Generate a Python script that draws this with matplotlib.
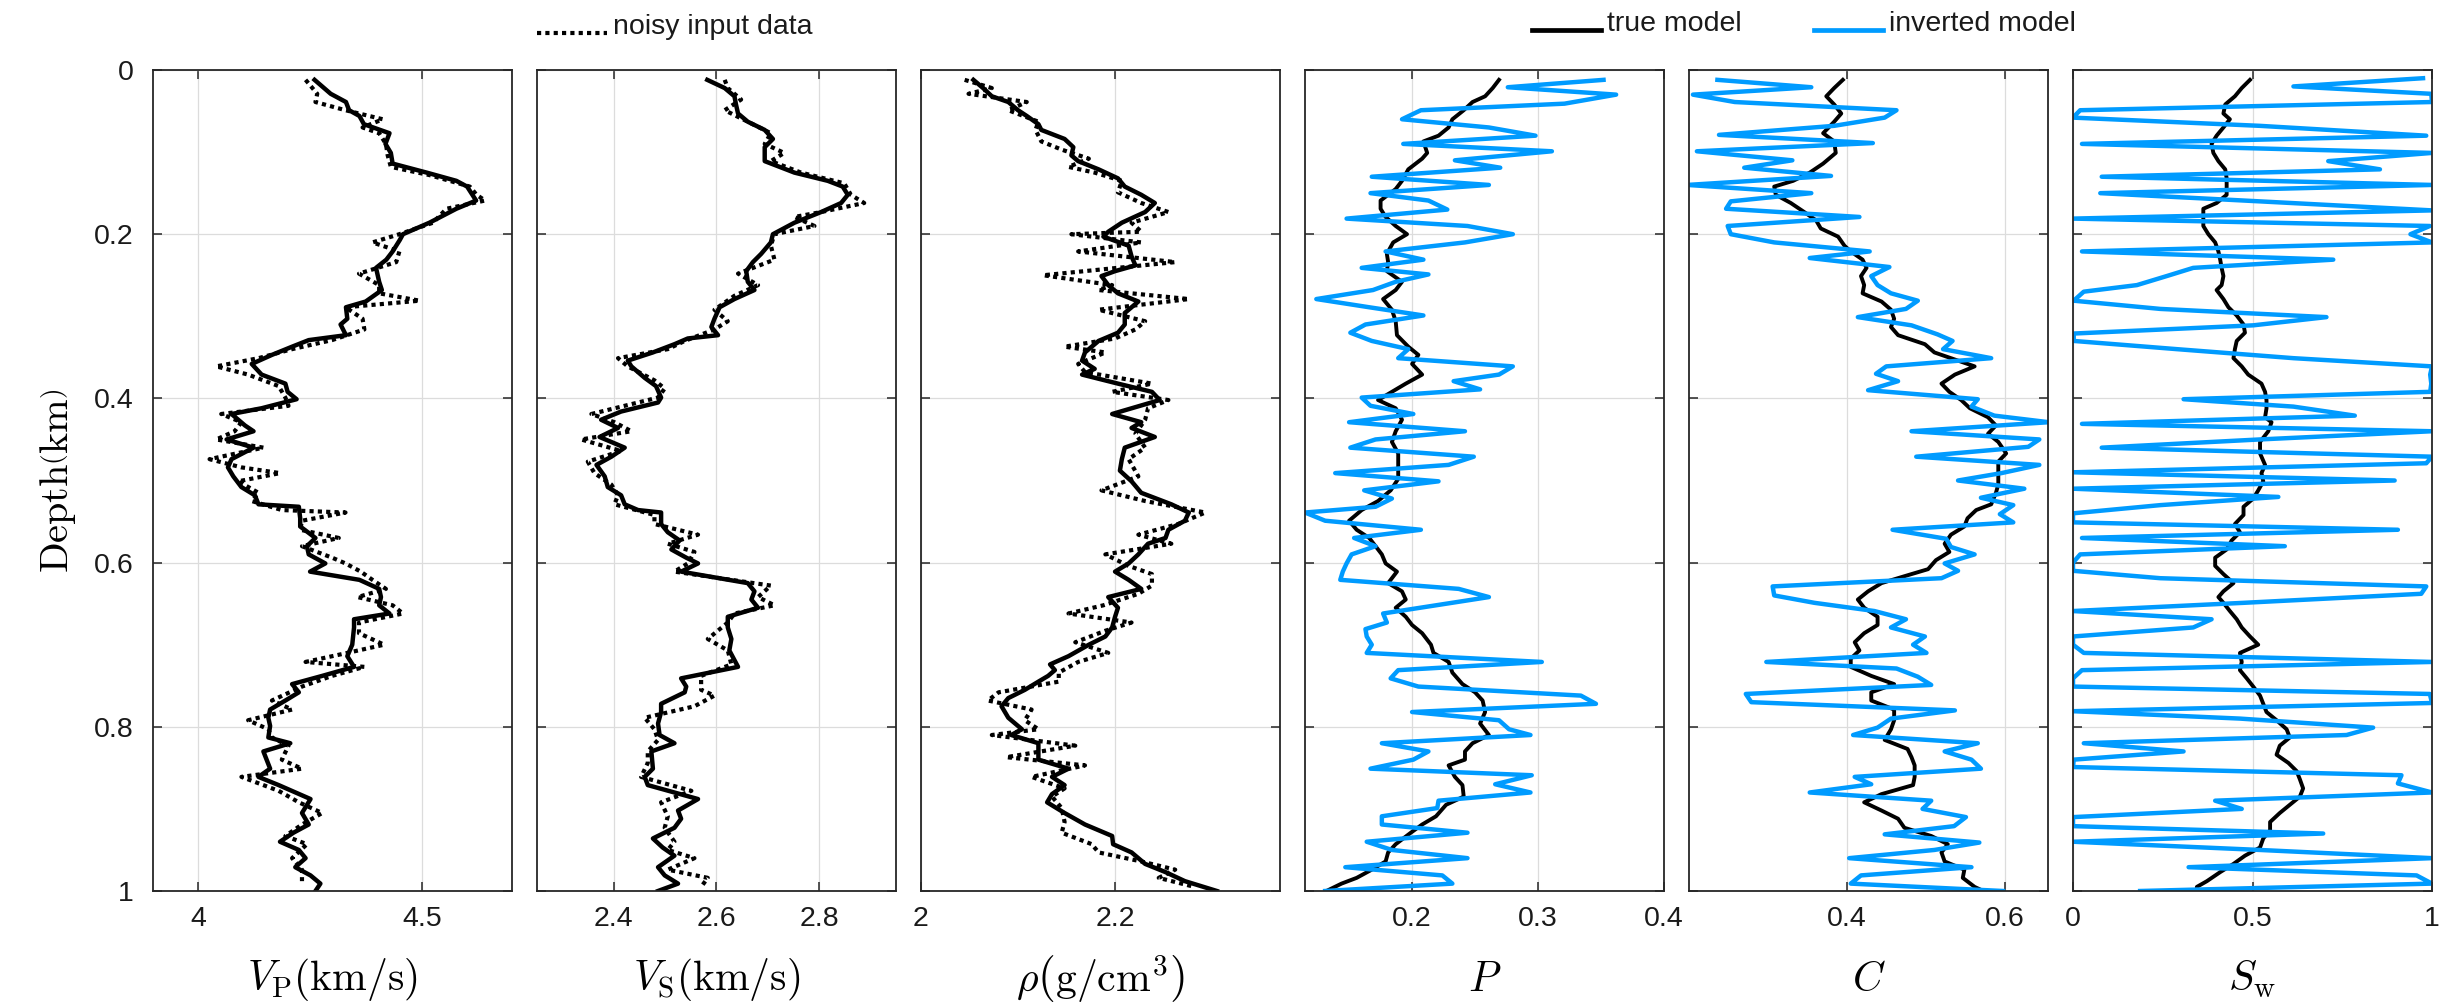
"""
plot.py

Six-track well-log style figure: elastic parameters (true vs noisy input)
and rock-physics parameters (true vs inverted) against depth.
"""

import matplotlib
matplotlib.use("Agg")
import matplotlib.pyplot as plt
from matplotlib.lines import Line2D

plt.rcParams["font.family"] = ["Liberation Sans", "DejaVu Sans"]
plt.rcParams["mathtext.fontset"] = "cm"

# ---------------------------------------------------------------- data
# Vp (km/s)
vp_depth = [0.012, 0.029, 0.039, 0.049, 0.056, 0.066, 0.077, 0.090, 0.101, 0.114,
            0.125, 0.135, 0.142, 0.159, 0.169, 0.186, 0.200, 0.207, 0.221, 0.231,
            0.241, 0.258, 0.268, 0.282, 0.289, 0.303, 0.310, 0.323, 0.329, 0.337,
            0.347, 0.358, 0.371, 0.382, 0.392, 0.401, 0.412, 0.419, 0.433, 0.440,
            0.450, 0.460, 0.474, 0.484, 0.495, 0.508, 0.518, 0.529, 0.532, 0.546,
            0.556, 0.570, 0.580, 0.590, 0.601, 0.611, 0.621, 0.632, 0.642, 0.652,
            0.662, 0.669, 0.679, 0.700, 0.714, 0.727, 0.738, 0.748, 0.758, 0.768,
            0.779, 0.789, 0.799, 0.813, 0.820, 0.830, 0.851, 0.861, 0.871, 0.888,
            0.905, 0.919, 0.929, 0.940, 0.950, 0.960, 0.971, 0.981, 0.991, 1.000]
vp_true = [4.260, 4.296, 4.330, 4.337, 4.360, 4.370, 4.427, 4.418, 4.430, 4.434,
           4.510, 4.576, 4.600, 4.620, 4.576, 4.516, 4.457, 4.450, 4.434, 4.420,
           4.397, 4.404, 4.410, 4.374, 4.330, 4.333, 4.318, 4.330, 4.247, 4.210,
           4.165, 4.120, 4.142, 4.195, 4.200, 4.220, 4.142, 4.075, 4.105, 4.124,
           4.064, 4.124, 4.075, 4.067, 4.079, 4.097, 4.127, 4.135, 4.225, 4.228,
           4.228, 4.262, 4.243, 4.247, 4.284, 4.250, 4.360, 4.404, 4.408, 4.404,
           4.427, 4.348, 4.348, 4.344, 4.333, 4.348, 4.277, 4.210, 4.225, 4.195,
           4.161, 4.157, 4.161, 4.157, 4.206, 4.146, 4.161, 4.135, 4.180, 4.251,
           4.232, 4.247, 4.213, 4.183, 4.225, 4.240, 4.217, 4.251, 4.273, 4.262]
vp_noisy_depth = [0.012, 0.029, 0.039, 0.049, 0.060, 0.070, 0.077, 0.090, 0.104, 0.118,
                  0.128, 0.142, 0.152, 0.159, 0.169, 0.186, 0.200, 0.210, 0.221, 0.234,
                  0.248, 0.262, 0.272, 0.281, 0.289, 0.303, 0.316, 0.329, 0.340, 0.351,
                  0.361, 0.371, 0.385, 0.399, 0.409, 0.419, 0.429, 0.440, 0.450, 0.460,
                  0.474, 0.484, 0.491, 0.501, 0.515, 0.525, 0.536, 0.539, 0.549, 0.560,
                  0.570, 0.580, 0.594, 0.601, 0.611, 0.621, 0.632, 0.642, 0.652, 0.662,
                  0.673, 0.686, 0.700, 0.710, 0.721, 0.727, 0.738, 0.751, 0.768, 0.779,
                  0.792, 0.803, 0.813, 0.823, 0.840, 0.851, 0.861, 0.878, 0.892, 0.905,
                  0.919, 0.933, 0.943, 0.960, 0.974, 0.988]
vp_noisy = [4.240, 4.266, 4.262, 4.329, 4.412, 4.367, 4.404, 4.419, 4.423, 4.430,
            4.516, 4.606, 4.621, 4.640, 4.554, 4.524, 4.449, 4.389, 4.449, 4.442,
            4.359, 4.404, 4.404, 4.494, 4.329, 4.367, 4.371, 4.299, 4.210, 4.135,
            4.041, 4.112, 4.180, 4.195, 4.202, 4.052, 4.097, 4.082, 4.041, 4.146,
            4.026, 4.097, 4.183, 4.090, 4.135, 4.120, 4.187, 4.329, 4.232, 4.228,
            4.314, 4.232, 4.299, 4.329, 4.363, 4.389, 4.419, 4.356, 4.434, 4.457,
            4.359, 4.359, 4.415, 4.333, 4.240, 4.371, 4.299, 4.232, 4.165, 4.210,
            4.112, 4.157, 4.165, 4.202, 4.187, 4.232, 4.097, 4.180, 4.225, 4.277,
            4.232, 4.195, 4.243, 4.210, 4.232, 4.232]

# Vs (km/s)
vs_depth = [0.012, 0.022, 0.032, 0.042, 0.053, 0.063, 0.073, 0.084, 0.094, 0.111,
            0.125, 0.135, 0.142, 0.152, 0.162, 0.173, 0.186, 0.200, 0.210, 0.224,
            0.234, 0.245, 0.258, 0.268, 0.279, 0.289, 0.303, 0.313, 0.323, 0.327,
            0.334, 0.344, 0.354, 0.361, 0.375, 0.385, 0.399, 0.405, 0.416, 0.426,
            0.436, 0.447, 0.460, 0.471, 0.481, 0.495, 0.508, 0.518, 0.529, 0.536,
            0.539, 0.553, 0.563, 0.573, 0.584, 0.594, 0.601, 0.611, 0.625, 0.635,
            0.645, 0.655, 0.666, 0.679, 0.693, 0.707, 0.727, 0.741, 0.751, 0.758,
            0.772, 0.782, 0.796, 0.810, 0.820, 0.830, 0.851, 0.861, 0.871, 0.888,
            0.902, 0.912, 0.923, 0.936, 0.947, 0.957, 0.971, 0.981, 0.991, 1.000]
vs_true = [2.582, 2.616, 2.635, 2.638, 2.642, 2.661, 2.694, 2.710, 2.694, 2.694,
           2.752, 2.817, 2.846, 2.856, 2.843, 2.804, 2.752, 2.710, 2.706, 2.687,
           2.671, 2.658, 2.661, 2.674, 2.635, 2.606, 2.596, 2.590, 2.603, 2.544,
           2.518, 2.476, 2.427, 2.434, 2.460, 2.482, 2.492, 2.486, 2.414, 2.375,
           2.408, 2.372, 2.421, 2.395, 2.366, 2.382, 2.388, 2.414, 2.421, 2.447,
           2.492, 2.492, 2.505, 2.528, 2.512, 2.541, 2.564, 2.531, 2.661, 2.674,
           2.668, 2.681, 2.622, 2.622, 2.629, 2.625, 2.642, 2.531, 2.541, 2.538,
           2.492, 2.492, 2.486, 2.489, 2.518, 2.473, 2.476, 2.460, 2.466, 2.564,
           2.525, 2.531, 2.518, 2.476, 2.495, 2.518, 2.486, 2.499, 2.525, 2.486]
vs_noisy_depth = [0.012, 0.022, 0.036, 0.049, 0.063, 0.077, 0.090, 0.101, 0.111, 0.125,
                  0.138, 0.152, 0.162, 0.173, 0.179, 0.190, 0.200, 0.214, 0.231, 0.248,
                  0.262, 0.275, 0.292, 0.306, 0.316, 0.330, 0.340, 0.351, 0.361, 0.378,
                  0.388, 0.399, 0.419, 0.429, 0.440, 0.450, 0.464, 0.477, 0.491, 0.505,
                  0.518, 0.529, 0.542, 0.553, 0.566, 0.577, 0.587, 0.601, 0.611, 0.628,
                  0.642, 0.652, 0.662, 0.673, 0.693, 0.707, 0.724, 0.738, 0.755, 0.762,
                  0.775, 0.789, 0.803, 0.816, 0.830, 0.844, 0.861, 0.878, 0.892, 0.909,
                  0.923, 0.940, 0.950, 0.960, 0.974, 0.984, 0.995]
vs_noisy = [2.616, 2.622, 2.648, 2.616, 2.661, 2.706, 2.694, 2.732, 2.706, 2.765,
            2.849, 2.862, 2.888, 2.804, 2.752, 2.791, 2.713, 2.706, 2.713, 2.642,
            2.681, 2.635, 2.596, 2.622, 2.596, 2.538, 2.505, 2.408, 2.427, 2.479,
            2.499, 2.486, 2.356, 2.401, 2.434, 2.336, 2.414, 2.349, 2.362, 2.395,
            2.408, 2.401, 2.479, 2.479, 2.564, 2.505, 2.557, 2.544, 2.518, 2.706,
            2.681, 2.713, 2.635, 2.622, 2.583, 2.622, 2.629, 2.570, 2.570, 2.596,
            2.557, 2.460, 2.479, 2.486, 2.466, 2.466, 2.453, 2.551, 2.492, 2.505,
            2.499, 2.518, 2.505, 2.557, 2.505, 2.583, 2.570]

# density (g/cm3)
rho_depth = [0.012, 0.022, 0.032, 0.039, 0.049, 0.056, 0.066, 0.073, 0.084, 0.094,
             0.104, 0.111, 0.121, 0.132, 0.142, 0.152, 0.162, 0.173, 0.186, 0.197,
             0.203, 0.214, 0.227, 0.238, 0.245, 0.251, 0.262, 0.272, 0.282, 0.296,
             0.310, 0.320, 0.330, 0.344, 0.354, 0.364, 0.371, 0.382, 0.392, 0.402,
             0.419, 0.429, 0.436, 0.447, 0.460, 0.474, 0.488, 0.501, 0.515, 0.529,
             0.539, 0.549, 0.560, 0.570, 0.577, 0.590, 0.601, 0.611, 0.621, 0.632,
             0.642, 0.655, 0.666, 0.679, 0.690, 0.700, 0.714, 0.724, 0.731, 0.738,
             0.745, 0.755, 0.765, 0.775, 0.789, 0.803, 0.810, 0.820, 0.830, 0.840,
             0.851, 0.861, 0.871, 0.882, 0.892, 0.905, 0.919, 0.933, 0.943, 0.953,
             0.967, 0.977, 0.988, 1.000]
rho_true = [2.054, 2.064, 2.073, 2.090, 2.100, 2.109, 2.121, 2.124, 2.148, 2.157,
            2.155, 2.162, 2.183, 2.203, 2.210, 2.227, 2.241, 2.231, 2.207, 2.193,
            2.188, 2.214, 2.217, 2.221, 2.200, 2.186, 2.193, 2.203, 2.224, 2.210,
            2.210, 2.203, 2.183, 2.169, 2.166, 2.179, 2.166, 2.203, 2.238, 2.246,
            2.197, 2.227, 2.217, 2.241, 2.210, 2.207, 2.205, 2.217, 2.227, 2.258,
            2.276, 2.272, 2.255, 2.252, 2.234, 2.224, 2.214, 2.200, 2.214, 2.227,
            2.193, 2.203, 2.200, 2.197, 2.190, 2.173, 2.152, 2.133, 2.138, 2.131,
            2.121, 2.107, 2.090, 2.083, 2.090, 2.104, 2.093, 2.121, 2.121, 2.121,
            2.152, 2.135, 2.148, 2.135, 2.130, 2.148, 2.169, 2.197, 2.198, 2.217,
            2.231, 2.252, 2.272, 2.305]
rho_noisy_depth = [0.012, 0.022, 0.029, 0.039, 0.049, 0.063, 0.073, 0.087, 0.097, 0.108,
                   0.118, 0.125, 0.135, 0.149, 0.162, 0.173, 0.186, 0.197, 0.200, 0.210,
                   0.221, 0.234, 0.250, 0.262, 0.268, 0.279, 0.292, 0.306, 0.316, 0.327,
                   0.337, 0.344, 0.358, 0.368, 0.382, 0.392, 0.402, 0.412, 0.426, 0.443,
                   0.460, 0.474, 0.495, 0.512, 0.525, 0.539, 0.553, 0.566, 0.577, 0.590,
                   0.604, 0.614, 0.628, 0.638, 0.652, 0.662, 0.673, 0.683, 0.697, 0.710,
                   0.721, 0.734, 0.745, 0.758, 0.768, 0.779, 0.792, 0.803, 0.810, 0.823,
                   0.837, 0.847, 0.861, 0.875, 0.885, 0.899, 0.916, 0.929, 0.943, 0.953,
                   0.964, 0.974, 0.984, 0.995]
rho_noisy = [2.045, 2.073, 2.049, 2.109, 2.090, 2.121, 2.118, 2.124, 2.145, 2.173,
             2.152, 2.179, 2.207, 2.203, 2.227, 2.255, 2.217, 2.227, 2.155, 2.227,
             2.162, 2.262, 2.126, 2.197, 2.183, 2.276, 2.183, 2.231, 2.221, 2.200,
             2.148, 2.190, 2.162, 2.169, 2.238, 2.197, 2.255, 2.234, 2.231, 2.221,
             2.231, 2.214, 2.224, 2.186, 2.231, 2.293, 2.265, 2.224, 2.258, 2.190,
             2.214, 2.238, 2.238, 2.224, 2.188, 2.152, 2.217, 2.190, 2.159, 2.193,
             2.162, 2.142, 2.142, 2.080, 2.069, 2.114, 2.107, 2.121, 2.073, 2.159,
             2.088, 2.169, 2.114, 2.148, 2.135, 2.145, 2.148, 2.145, 2.176, 2.183,
             2.227, 2.262, 2.245, 2.282]

# porosity P
p_depth = [0.012, 0.022, 0.032, 0.039, 0.049, 0.060, 0.070, 0.080, 0.087, 0.101,
           0.108, 0.121, 0.135, 0.145, 0.159, 0.169, 0.179, 0.190, 0.200, 0.210,
           0.224, 0.234, 0.245, 0.258, 0.268, 0.279, 0.292, 0.306, 0.323, 0.337,
           0.347, 0.358, 0.371, 0.382, 0.392, 0.402, 0.412, 0.426, 0.440, 0.453,
           0.467, 0.481, 0.498, 0.512, 0.525, 0.536, 0.549, 0.560, 0.570, 0.580,
           0.590, 0.601, 0.611, 0.625, 0.635, 0.645, 0.655, 0.666, 0.676, 0.686,
           0.700, 0.710, 0.721, 0.734, 0.748, 0.758, 0.768, 0.782, 0.796, 0.810,
           0.820, 0.830, 0.840, 0.847, 0.861, 0.871, 0.885, 0.895, 0.909, 0.919,
           0.929, 0.943, 0.953, 0.964, 0.974, 0.984, 0.991, 1.000]
p_true = [0.269, 0.264, 0.258, 0.248, 0.241, 0.232, 0.229, 0.221, 0.209, 0.212,
          0.208, 0.197, 0.192, 0.187, 0.175, 0.175, 0.179, 0.187, 0.196, 0.185,
          0.180, 0.181, 0.180, 0.192, 0.187, 0.177, 0.184, 0.187, 0.188, 0.197,
          0.205, 0.200, 0.208, 0.195, 0.184, 0.173, 0.187, 0.192, 0.187, 0.184,
          0.189, 0.189, 0.189, 0.183, 0.173, 0.160, 0.150, 0.156, 0.166, 0.171,
          0.176, 0.179, 0.188, 0.181, 0.192, 0.195, 0.187, 0.195, 0.200, 0.208,
          0.215, 0.217, 0.229, 0.232, 0.240, 0.250, 0.256, 0.258, 0.254, 0.261,
          0.248, 0.242, 0.242, 0.229, 0.234, 0.240, 0.241, 0.227, 0.219, 0.208,
          0.199, 0.187, 0.181, 0.179, 0.168, 0.156, 0.144, 0.132]
p_inv_depth = [0.012, 0.021, 0.030, 0.041, 0.049, 0.060, 0.070, 0.080, 0.090, 0.099,
               0.110, 0.119, 0.130, 0.140, 0.150, 0.159, 0.170, 0.181, 0.190, 0.200,
               0.210, 0.221, 0.231, 0.241, 0.249, 0.258, 0.268, 0.279, 0.289, 0.299,
               0.310, 0.320, 0.330, 0.340, 0.351, 0.361, 0.371, 0.379, 0.389, 0.399,
               0.409, 0.419, 0.429, 0.440, 0.450, 0.460, 0.471, 0.481, 0.491, 0.501,
               0.512, 0.522, 0.532, 0.539, 0.549, 0.560, 0.570, 0.580, 0.590, 0.601,
               0.611, 0.621, 0.632, 0.642, 0.652, 0.662, 0.673, 0.681, 0.690, 0.700,
               0.710, 0.721, 0.731, 0.741, 0.751, 0.762, 0.772, 0.782, 0.792, 0.803,
               0.810, 0.820, 0.830, 0.840, 0.851, 0.859, 0.870, 0.880, 0.890, 0.899,
               0.909, 0.919, 0.929, 0.940, 0.950, 0.960, 0.971, 0.981, 0.991, 1.000]
p_inv = [0.352, 0.276, 0.362, 0.321, 0.207, 0.192, 0.261, 0.298, 0.193, 0.311,
         0.234, 0.270, 0.168, 0.261, 0.167, 0.213, 0.228, 0.148, 0.244, 0.280,
         0.242, 0.179, 0.209, 0.160, 0.213, 0.187, 0.169, 0.124, 0.166, 0.209,
         0.163, 0.151, 0.168, 0.197, 0.189, 0.280, 0.269, 0.233, 0.254, 0.160,
         0.167, 0.201, 0.150, 0.242, 0.171, 0.151, 0.249, 0.229, 0.139, 0.221,
         0.162, 0.184, 0.171, 0.115, 0.131, 0.207, 0.154, 0.171, 0.152, 0.148,
         0.145, 0.143, 0.237, 0.261, 0.219, 0.177, 0.180, 0.163, 0.164, 0.168,
         0.164, 0.303, 0.189, 0.183, 0.205, 0.334, 0.346, 0.200, 0.269, 0.277,
         0.294, 0.176, 0.213, 0.201, 0.167, 0.295, 0.266, 0.294, 0.221, 0.220,
         0.176, 0.176, 0.244, 0.164, 0.184, 0.244, 0.147, 0.224, 0.232, 0.131]

# clay content C
c_depth = [0.012, 0.022, 0.032, 0.042, 0.053, 0.063, 0.077, 0.087, 0.101, 0.114,
           0.125, 0.135, 0.142, 0.152, 0.162, 0.173, 0.183, 0.193, 0.203, 0.214,
           0.221, 0.231, 0.241, 0.251, 0.262, 0.272, 0.282, 0.292, 0.303, 0.313,
           0.323, 0.334, 0.344, 0.351, 0.361, 0.371, 0.382, 0.392, 0.402, 0.412,
           0.423, 0.433, 0.443, 0.453, 0.467, 0.477, 0.491, 0.505, 0.515, 0.529,
           0.536, 0.546, 0.556, 0.566, 0.577, 0.587, 0.597, 0.608, 0.614, 0.625,
           0.635, 0.645, 0.655, 0.666, 0.676, 0.686, 0.697, 0.707, 0.717, 0.727,
           0.738, 0.748, 0.758, 0.768, 0.779, 0.792, 0.803, 0.816, 0.827, 0.837,
           0.847, 0.861, 0.871, 0.882, 0.892, 0.902, 0.912, 0.923, 0.933, 0.943,
           0.953, 0.964, 0.974, 0.984, 0.995, 1.000]
c_true = [0.395, 0.384, 0.374, 0.384, 0.393, 0.384, 0.370, 0.384, 0.386, 0.370,
          0.353, 0.332, 0.308, 0.310, 0.329, 0.346, 0.361, 0.367, 0.389, 0.397,
          0.405, 0.420, 0.425, 0.418, 0.422, 0.420, 0.444, 0.456, 0.460, 0.456,
          0.465, 0.499, 0.511, 0.532, 0.562, 0.537, 0.520, 0.530, 0.545, 0.556,
          0.579, 0.589, 0.579, 0.592, 0.602, 0.592, 0.592, 0.592, 0.589, 0.583,
          0.564, 0.553, 0.549, 0.532, 0.524, 0.530, 0.513, 0.503, 0.482, 0.444,
          0.427, 0.414, 0.422, 0.439, 0.439, 0.422, 0.410, 0.416, 0.405, 0.405,
          0.431, 0.460, 0.431, 0.431, 0.460, 0.460, 0.456, 0.448, 0.477, 0.482,
          0.486, 0.486, 0.484, 0.444, 0.422, 0.444, 0.465, 0.473, 0.507, 0.528,
          0.520, 0.524, 0.549, 0.547, 0.562, 0.573]
c_inv_depth = [0.012, 0.021, 0.030, 0.039, 0.049, 0.058, 0.068, 0.079, 0.089, 0.099,
               0.110, 0.119, 0.129, 0.140, 0.150, 0.160, 0.169, 0.179, 0.190, 0.200,
               0.210, 0.221, 0.229, 0.240, 0.251, 0.262, 0.272, 0.281, 0.291, 0.301,
               0.311, 0.322, 0.330, 0.340, 0.351, 0.361, 0.370, 0.379, 0.390, 0.401,
               0.410, 0.421, 0.429, 0.440, 0.450, 0.459, 0.471, 0.481, 0.491, 0.500,
               0.510, 0.521, 0.530, 0.541, 0.551, 0.560, 0.571, 0.581, 0.590, 0.601,
               0.610, 0.619, 0.629, 0.640, 0.649, 0.659, 0.669, 0.679, 0.690, 0.700,
               0.710, 0.721, 0.729, 0.739, 0.749, 0.760, 0.770, 0.780, 0.790, 0.801,
               0.810, 0.820, 0.830, 0.840, 0.851, 0.861, 0.870, 0.880, 0.890, 0.900,
               0.910, 0.921, 0.931, 0.941, 0.950, 0.960, 0.971, 0.981, 0.991, 1.000]
c_inv = [0.236, 0.355, 0.205, 0.258, 0.463, 0.448, 0.384, 0.238, 0.433, 0.210,
         0.331, 0.270, 0.380, 0.198, 0.355, 0.253, 0.247, 0.416, 0.249, 0.253,
         0.308, 0.429, 0.353, 0.454, 0.431, 0.439, 0.456, 0.490, 0.475, 0.414,
         0.482, 0.515, 0.534, 0.522, 0.583, 0.450, 0.437, 0.465, 0.427, 0.566,
         0.558, 0.587, 0.656, 0.482, 0.644, 0.630, 0.488, 0.644, 0.596, 0.541,
         0.625, 0.570, 0.611, 0.594, 0.611, 0.458, 0.526, 0.532, 0.562, 0.524,
         0.541, 0.520, 0.306, 0.308, 0.359, 0.435, 0.475, 0.456, 0.499, 0.484,
         0.501, 0.298, 0.463, 0.490, 0.507, 0.272, 0.279, 0.537, 0.456, 0.439,
         0.408, 0.566, 0.524, 0.558, 0.570, 0.410, 0.431, 0.353, 0.507, 0.496,
         0.551, 0.536, 0.448, 0.568, 0.511, 0.403, 0.558, 0.418, 0.405, 0.598]

# water saturation Sw
sw_depth = [0.012, 0.022, 0.032, 0.042, 0.053, 0.060, 0.070, 0.080, 0.090, 0.101,
            0.111, 0.121, 0.132, 0.142, 0.152, 0.162, 0.169, 0.179, 0.190, 0.200,
            0.210, 0.221, 0.231, 0.241, 0.251, 0.262, 0.268, 0.279, 0.289, 0.299,
            0.310, 0.320, 0.330, 0.340, 0.351, 0.361, 0.371, 0.382, 0.392, 0.402,
            0.412, 0.423, 0.429, 0.440, 0.453, 0.467, 0.481, 0.491, 0.501, 0.512,
            0.522, 0.532, 0.542, 0.553, 0.563, 0.573, 0.584, 0.594, 0.604, 0.614,
            0.625, 0.635, 0.642, 0.649, 0.659, 0.669, 0.679, 0.690, 0.700, 0.710,
            0.721, 0.731, 0.741, 0.751, 0.762, 0.772, 0.782, 0.792, 0.803, 0.813,
            0.823, 0.834, 0.844, 0.854, 0.864, 0.875, 0.885, 0.895, 0.905, 0.916,
            0.926, 0.936, 0.947, 0.957, 0.967, 0.977, 0.988, 0.995, 1.000]
sw_true = [0.493, 0.470, 0.451, 0.424, 0.419, 0.437, 0.419, 0.400, 0.386, 0.391,
           0.405, 0.424, 0.428, 0.428, 0.428, 0.400, 0.363, 0.363, 0.363, 0.377,
           0.396, 0.405, 0.410, 0.414, 0.419, 0.414, 0.400, 0.419, 0.433, 0.456,
           0.475, 0.479, 0.456, 0.451, 0.447, 0.470, 0.488, 0.525, 0.535, 0.539,
           0.539, 0.535, 0.553, 0.544, 0.521, 0.521, 0.535, 0.525, 0.530, 0.516,
           0.502, 0.475, 0.475, 0.451, 0.465, 0.442, 0.428, 0.396, 0.396, 0.419,
           0.447, 0.419, 0.405, 0.419, 0.437, 0.456, 0.470, 0.493, 0.516, 0.465,
           0.470, 0.465, 0.484, 0.502, 0.521, 0.530, 0.539, 0.567, 0.595, 0.604,
           0.576, 0.567, 0.600, 0.623, 0.632, 0.641, 0.632, 0.604, 0.576, 0.549,
           0.549, 0.530, 0.521, 0.479, 0.447, 0.410, 0.373, 0.345, 0.345]
sw_inv_depth = [0.010, 0.020, 0.029, 0.039, 0.049, 0.058, 0.068, 0.080, 0.090, 0.101,
                0.111, 0.121, 0.130, 0.140, 0.150, 0.160, 0.171, 0.181, 0.190, 0.200,
                0.210, 0.221, 0.231, 0.241, 0.251, 0.262, 0.270, 0.281, 0.291, 0.301,
                0.311, 0.321, 0.330, 0.340, 0.351, 0.361, 0.371, 0.382, 0.392, 0.401,
                0.410, 0.421, 0.431, 0.440, 0.450, 0.460, 0.471, 0.479, 0.490, 0.500,
                0.510, 0.520, 0.530, 0.540, 0.551, 0.560, 0.570, 0.580, 0.590, 0.600,
                0.610, 0.619, 0.629, 0.638, 0.649, 0.659, 0.669, 0.679, 0.690, 0.700,
                0.710, 0.721, 0.731, 0.741, 0.751, 0.760, 0.771, 0.781, 0.790, 0.801,
                0.810, 0.820, 0.830, 0.840, 0.849, 0.859, 0.869, 0.880, 0.890, 0.900,
                0.910, 0.921, 0.930, 0.940, 0.950, 0.960, 0.971, 0.981, 0.991, 1.000]
sw_inv = [0.975, 0.614, 0.998, 1.000, 0.020, 0.000, 0.520, 0.984, 0.025, 1.000,
          0.711, 0.855, 0.080, 1.000, 0.076, 0.520, 1.000, 0.000, 0.994, 0.940,
          1.000, 0.025, 0.725, 0.335, 0.261, 0.178, 0.030, 0.002, 0.243, 0.706,
          0.502, 0.002, 0.002, 0.289, 0.614, 1.000, 0.995, 0.998, 0.995, 0.308,
          0.614, 0.785, 0.025, 1.000, 0.520, 0.080, 1.000, 0.984, 0.000, 0.896,
          0.000, 0.572, 0.243, 0.000, 0.000, 0.905, 0.025, 0.590, 0.020, 0.000,
          0.000, 0.243, 0.984, 0.970, 0.475, 0.000, 0.386, 0.335, 0.000, 0.000,
          0.030, 1.000, 0.025, 0.000, 0.000, 0.994, 1.000, 0.000, 0.465, 0.836,
          0.762, 0.030, 0.308, 0.002, 0.000, 0.915, 0.905, 1.000, 0.396, 0.470,
          0.000, 0.000, 0.697, 0.000, 0.520, 1.000, 0.322, 0.957, 1.000, 0.187]

# axis labels, limits and ticks for each track
x_labels = [r"$V_{\mathrm{P}}\left(\mathrm{km/s}\right)$",
            r"$V_{\mathrm{S}}\left(\mathrm{km/s}\right)$",
            r"$\rho\left(\mathrm{g/cm}^3\right)$",
            r"$P$", r"$C$", r"$S_{\mathrm{w}}$"]
x_limits = [(3.9, 4.7), (2.25, 2.95), (2.0, 2.37), (0.115, 0.4), (0.2, 0.655), (0.0, 1.0)]
x_ticks = [[4, 4.5], [2.4, 2.6, 2.8], [2, 2.2], [0.2, 0.3, 0.4], [0.4, 0.6], [0, 0.5, 1]]
x_tick_labels = [["4", "4.5"], ["2.4", "2.6", "2.8"], ["2", "2.2"],
                 ["0.2", "0.3", "0.4"], ["0.4", "0.6"], ["0", "0.5", "1"]]
depth_ticks = [0, 0.2, 0.4, 0.6, 0.8, 1]
depth_tick_labels = ["0", "0.2", "0.4", "0.6", "0.8", "1"]

# ---------------------------------------------------------------- style
BLUE = "#009bff"
SPINE = "#262626"
W, H = 2458, 1005
LEFTS = [153, 537, 921, 1305, 1689, 2073]   # panel left edges (px)
PANEL_W = 359
TOP, BOTTOM = 70, 891


def style_axis(ax, i):
    ax.set_ylim(1, 0)
    ax.set_xlim(*x_limits[i])
    ax.set_xticks(x_ticks[i])
    ax.set_xticklabels(x_tick_labels[i])
    ax.set_yticks(depth_ticks)
    if i == 0:
        ax.set_yticklabels(depth_tick_labels)
        ax.set_ylabel(r"$\mathrm{Depth}\left(\mathrm{km}\right)$", fontsize=29)
        ax.yaxis.set_label_coords(-0.265, 0.5)
        ax.yaxis.label.set_va("center")
    else:
        ax.set_yticklabels([])
    ax.tick_params(direction="in", length=6.5, width=1.1, color=SPINE,
                   top=True, right=True, labelsize=20.5, labelcolor="#1a1a1a")
    ax.tick_params(axis="x", pad=11)
    ax.tick_params(axis="y", pad=14)
    ax.grid(True, color="#dcdcdc", lw=0.9)
    ax.set_axisbelow(True)
    for sp in ax.spines.values():
        sp.set_color(SPINE)
        sp.set_linewidth(1.3)
    ax.set_xlabel(x_labels[i], fontsize=30)
    ax.xaxis.set_label_coords(0.5, -0.108)
    ax.xaxis.label.set_va("center")


fig = plt.figure(figsize=(W / 100, H / 100), dpi=100)

elastic = [(vp_depth, vp_true, vp_noisy_depth, vp_noisy),
           (vs_depth, vs_true, vs_noisy_depth, vs_noisy),
           (rho_depth, rho_true, rho_noisy_depth, rho_noisy)]
rockphys = [(p_depth, p_true, p_inv_depth, p_inv),
            (c_depth, c_true, c_inv_depth, c_inv),
            (sw_depth, sw_true, sw_inv_depth, sw_inv)]

for i in range(6):
    ax = fig.add_axes([LEFTS[i] / W, 1 - BOTTOM / H, PANEL_W / W, (BOTTOM - TOP) / H])
    if i < 3:
        d_t, v_t, d_n, v_n = elastic[i]
        ax.plot(v_t, d_t, color="black", lw=3.2)
        ax.plot(v_n, d_n, color="black", lw=3.0, linestyle=(0, (1, 1)),
                dash_capstyle="butt")
    else:
        d_t, v_t, d_n, v_n = rockphys[i - 3]
        ax.plot(v_t, d_t, color="black", lw=2.8)
        ax.plot(v_n, d_n, color=BLUE, lw=3.2)
    style_axis(ax, i)

# legend entries drawn along the top of the figure
legend_items = [
    ("noisy input data", dict(color="black", lw=3.0, linestyle=(0, (1, 1)),
                              dash_capstyle="butt"), 537, 607, 33),
    ("true model", dict(color="black", lw=3.4), 1532, 1601, 30),
    ("inverted model", dict(color=BLUE, lw=3.4), 1814, 1883, 30),
]
for label, kw, x0, x1, y in legend_items:
    fig.add_artist(Line2D([x0 / W, x1 / W], [1 - y / H, 1 - y / H],
                          transform=fig.transFigure, **kw))
    fig.text((x1 + 6) / W, 1 - (y - 6) / H, label, fontsize=20.5,
             ha="left", va="center", color="#1a1a1a")

fig.savefig("out.png", dpi=100)
plt.close(fig)
